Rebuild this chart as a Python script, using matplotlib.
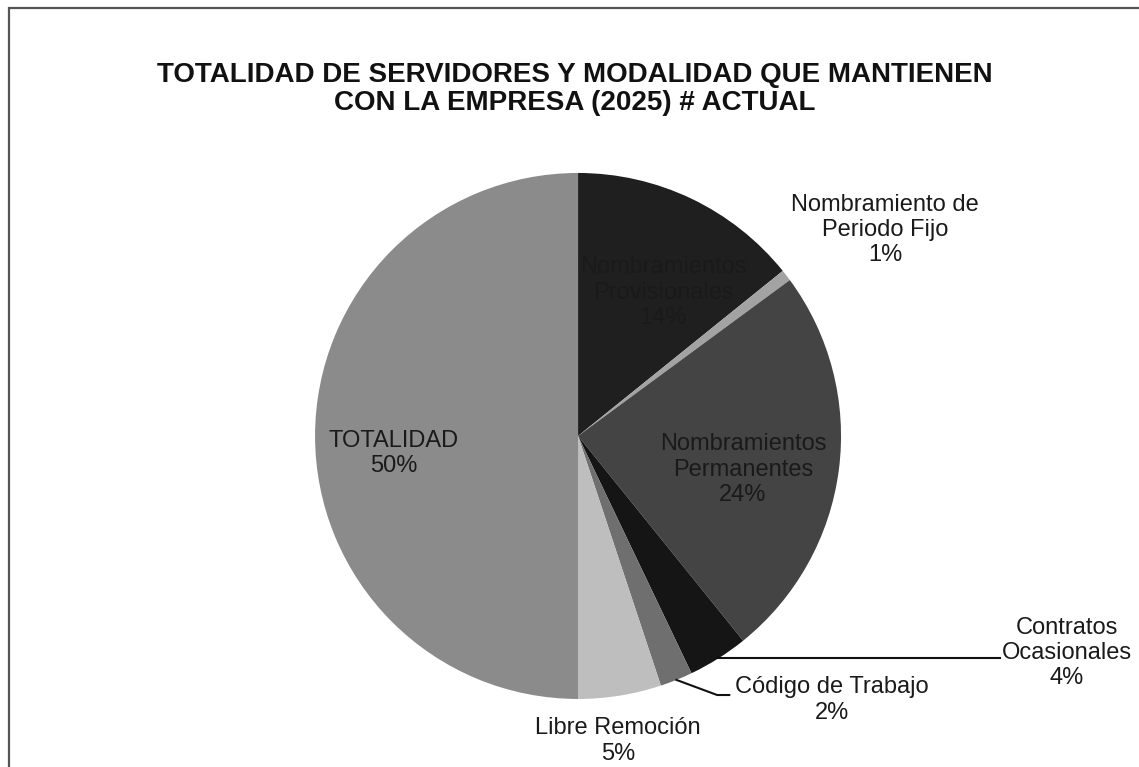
import numpy as np
import matplotlib
matplotlib.use("Agg")
import matplotlib.pyplot as plt
from matplotlib.patches import Rectangle

plt.rcParams["font.family"] = ["Liberation Sans", "DejaVu Sans"]

# data (percent of personnel)
categories = [
    "Nombramientos\nProvisionales",
    "Nombramiento de\nPeriodo Fijo",
    "Nombramientos\nPermanentes",
    "Contratos\nOcasionales",
    "Código de Trabajo",
    "Libre Remoción",
    "TOTALIDAD",
]
values = [14.2, 0.7, 24.3, 3.7, 2.0, 5.1, 50.0]
colors = ["#1f1f1f", "#a3a3a3", "#444444", "#151515", "#6f6f6f", "#bebebe", "#8b8b8b"]

# label anchors in pie units (radius = 1)
label_pos = [
    (0.323, 0.544),
    (1.167, 0.783),
    (0.627, -0.129),
    (1.859, -0.825),
    (0.966, -1.004),
    (0.152, -1.160),
    (-0.700, -0.067),
]

fig = plt.figure(figsize=(11.39, 7.67), dpi=100)
fig.patch.set_facecolor("white")

# frame around the chart area
fig.add_artist(Rectangle((9 / 1139, -0.05), 1.1, 1 - 8 / 767 + 0.05,
                         transform=fig.transFigure, fill=False,
                         edgecolor="#555555", linewidth=1.6))

fig.text(0.505, 1 - 89 / 767,
         "TOTALIDAD DE SERVIDORES Y MODALIDAD QUE MANTIENEN\nCON LA EMPRESA (2025) # ACTUAL",
         ha="center", va="center", fontsize=20, fontweight="bold",
         color="#111111", linespacing=1.15)

ax = fig.add_axes([0.2766, 0.0887, 0.4618, 0.6858])
wedges, _ = ax.pie(values, colors=colors, startangle=90, counterclock=False,
                   radius=1, wedgeprops=dict(linewidth=0))
ax.set_xlim(-1, 1)
ax.set_ylim(-1, 1)
ax.set_aspect("equal")
ax.axis("off")

for i, (name, val) in enumerate(zip(categories, values)):
    x, y = label_pos[i]
    ax.text(x, y, f"{name}\n{val:.0f}%", ha="center", va="center",
            fontsize=17, color="#1a1a1a", linespacing=1.2, clip_on=False)

# leader lines for the small outer slices
def mid_angle(w):
    return np.deg2rad((w.theta1 + w.theta2) / 2)

a = mid_angle(wedges[3])
sx, sy = np.cos(a), np.sin(a)
ax.plot([sx, 1.605], [sy, sy], color="#111111", lw=1.5, clip_on=False)

a = mid_angle(wedges[4])
sx, sy = np.cos(a), np.sin(a)
ax.plot([sx, 0.529, 0.575], [sy, -0.985, -0.985], color="#111111", lw=1.5, clip_on=False)

fig.savefig("out.png", dpi=100, facecolor="white")
